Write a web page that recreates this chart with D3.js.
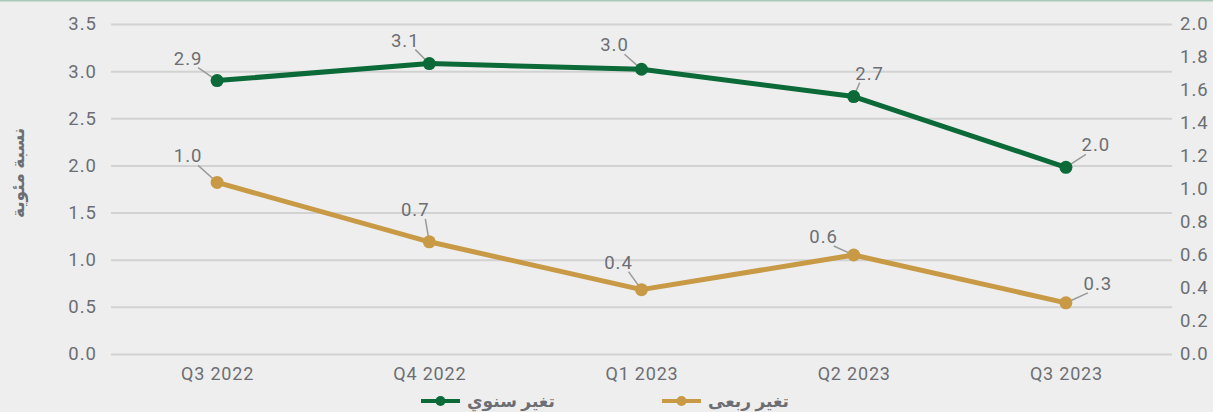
<!DOCTYPE html>
<html>
<head>
<meta charset="utf-8">
<script src="https://cdn.jsdelivr.net/npm/d3@7"></script>
<style>
  body { margin: 0; background: #eeeeee; }
  svg { display: block; font-family: Roboto, "DejaVu Sans", sans-serif; }
</style>
</head>
<body>
<svg id="chart" width="1213" height="412"></svg>
<script>
// data
var quarters = ["Q3 2022", "Q4 2022", "Q1 2023", "Q2 2023", "Q3 2023"];
var yearly = [2.9, 3.08, 3.02, 2.73, 1.98];          // left axis
var yearlyLabels = ["2.9", "3.1", "3.0", "2.7", "2.0"];
var quarterly = [1.04, 0.68, 0.39, 0.6, 0.31];       // right axis
var quarterlyLabels = ["1.0", "0.7", "0.4", "0.6", "0.3"];
var leftTicks = [0, 0.5, 1, 1.5, 2, 2.5, 3, 3.5];
var rightTicks = [0, 0.2, 0.4, 0.6, 0.8, 1, 1.2, 1.4, 1.6, 1.8, 2];
var yearlyName = "تغير سنوي";
var quarterlyName = "تغير ربعى";
var yTitle = "نسبة مئوية";

// label placement (offset of label centre / baseline from its point)
var yearlyOff = [[-29, -16], [-24, -17], [-27, -18], [16, -17], [30, -16]];
var quarterlyOff = [[-29, -20], [-14, -26], [-23, -21], [-30, -12], [32, -13]];

function draw() {
    var svg = d3.select("#chart");
    var left = 111, right = 1172, top = 24, bottom = 354;
    var green = "#0b6a37", gold = "#c89a45", textCol = "#6c6e73";
    var font = "Roboto, 'DejaVu Sans', sans-serif";

    var x = d3.scalePoint().domain(quarters).range([left, right]).padding(0.5);
    var yL = d3.scaleLinear().domain([0, 3.5]).range([bottom, top]);
    var yR = d3.scaleLinear().domain([0, 2]).range([bottom, top]);

    // top border
    svg.append("line").attr("x1", 0).attr("x2", 1213).attr("y1", 0.5).attr("y2", 0.5)
        .attr("stroke", "#a9c9ba").attr("stroke-width", 2);

    // grid + left axis
    var gl = svg.append("g").attr("transform", "translate(" + left + ",0)")
        .call(d3.axisLeft(yL).tickValues(leftTicks).tickFormat(d3.format(".1f"))
            .tickSize(-(right - left)).tickPadding(14))
        .attr("font-family", font);
    gl.select(".domain").remove();
    gl.selectAll(".tick line").attr("stroke", "#d2d2d2").attr("stroke-width", 2);
    gl.selectAll(".tick text").attr("fill", textCol).attr("font-size", 18.5)
        .attr("letter-spacing", 1);

    var gr = svg.append("g").attr("transform", "translate(" + right + ",0)")
        .call(d3.axisRight(yR).tickValues(rightTicks).tickFormat(d3.format(".1f"))
            .tickSize(0).tickPadding(8))
        .attr("font-family", font);
    gr.select(".domain").remove();
    gr.selectAll(".tick text").attr("fill", textCol).attr("font-size", 18.5)
        .attr("letter-spacing", 1);

    var gx = svg.append("g").attr("transform", "translate(0," + bottom + ")")
        .call(d3.axisBottom(x).tickSize(0).tickPadding(13))
        .attr("font-family", font);
    gx.select(".domain").remove();
    gx.selectAll(".tick text").attr("fill", textCol).attr("font-size", 18)
        .attr("letter-spacing", 0.8);

    // y title
    svg.append("text").attr("transform", "translate(24,173) rotate(-90)")
        .attr("text-anchor", "middle").attr("fill", textCol)
        .attr("font-size", 17).attr("font-weight", "bold")
        .attr("font-family", "'Noto Sans', 'DejaVu Sans', sans-serif")
        .text(yTitle);

    function series(vals, y, color, labels, offs, r) {
        var line = d3.line().x(function(d, i) { return x(quarters[i]); })
            .y(function(d) { return y(d); });
        svg.append("path").datum(vals).attr("d", line)
            .attr("fill", "none").attr("stroke", color).attr("stroke-width", 5)
            .attr("stroke-linejoin", "round");

        vals.forEach(function(v, i) {
            var px = x(quarters[i]), py = y(v);
            var cx = px + offs[i][0], base = py + offs[i][1];
            var s = offs[i][0] < 0 ? 1 : -1;
            var sx = cx + s * 10, sy = base + 3;
            var len = Math.hypot(px - sx, py - sy);
            svg.append("line")
                .attr("x1", sx).attr("y1", sy)
                .attr("x2", px + (sx - px) * 4 / len).attr("y2", py + (sy - py) * 4 / len)
                .attr("stroke", "#9a9a9a").attr("stroke-width", 1.5);
            svg.append("circle").attr("cx", px).attr("cy", py).attr("r", r).attr("fill", color);
            svg.append("text")
                .attr("x", cx).attr("y", base)
                .attr("text-anchor", "middle")
                .attr("fill", textCol).attr("font-size", 18.5)
                .attr("letter-spacing", 1)
                .text(labels[i]);
        });
    }

    series(quarterly, yR, gold, quarterlyLabels, quarterlyOff, 6.5);
    series(yearly, yL, green, yearlyLabels, yearlyOff, 6.5);

    // legend
    var legend = [
        { name: yearlyName, color: green, x: 421 },
        { name: quarterlyName, color: gold, x: 662 }
    ];
    var lg = svg.selectAll(".legend").data(legend).enter().append("g")
        .attr("class", "legend")
        .attr("transform", function(d) { return "translate(" + d.x + ",401)"; });
    lg.append("line").attr("x1", 0).attr("x2", 39)
        .attr("stroke", function(d) { return d.color; }).attr("stroke-width", 4);
    lg.append("circle").attr("cx", 19.5).attr("r", 5).attr("fill", function(d) { return d.color; });
    lg.append("text").attr("x", 46).attr("y", 6)
        .attr("fill", textCol).attr("font-size", 17).attr("font-weight", "bold")
        .attr("font-family", "'Noto Sans', 'DejaVu Sans', sans-serif")
        .attr("direction", "rtl").attr("text-anchor", "end")
        .text(function(d) { return d.name; });
}

draw();
</script>
</body>
</html>
